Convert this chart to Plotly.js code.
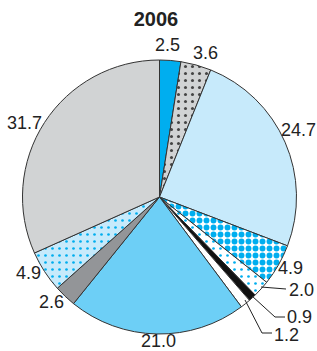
<!DOCTYPE html>
<html><head><meta charset="utf-8">
<script src="https://cdn.plot.ly/plotly-3.0.1.min.js"></script>
<style>html,body{margin:0;padding:0;background:#fff}</style>
</head><body><div id="chart" style="width:317px;height:351px"></div>
<script>
const labels = ["A","B","C","D","E","F","G","H","I","J","K"];
const values = [2.5, 3.6, 24.7, 4.9, 2.0, 0.9, 1.2, 21.0, 2.6, 4.9, 31.7];
const valueText = ["2.5","3.6","24.7","4.9","2.0","0.9","1.2","21.0","2.6","4.9","31.7"];

// styling (kept separate from data)
const colors = ["#00aeef","#d1d3d4","#c7eafb","#ffffff","#ffffff","#111111","#ffffff","#6dcff6","#939598","#c7eafb","#d1d3d4"];
const shapes = ["","." ,"","." ,".","","","","",".",""];
const fg = ["#00aeef","#444444","#c7eafb","#00aeef","#00aeef","#111111","#ffffff","#6dcff6","#939598","#00aeef","#d1d3d4"];
const sol = [0.3,0.15,0.3,0.55,0.12,0.3,0.3,0.3,0.3,0.12,0.3];
// label positions in pixels (layout only)
const labelPx = [[167,45],[205,53],[298,130],[290,268],[301,290],[299,317],[286,335],[158,341],[51,302],[28,273],[24,123]];
// leader lines in pixels
const leaders = [
  [[261,287],[286,289]],
  [[252,296],[275,317],[285,317]],
  [[245,300],[262,333],[272,333]]
];

const W = 317, H = 351;
const px = (x) => x / W, py = (y) => 1 - y / H;

const trace = {
  type: "pie",
  values: values,
  labels: labels,
  textinfo: "none",
  sort: false,
  direction: "clockwise",
  rotation: 0,
  domain: {x: [22/W, 297/W], y: [17/H, 291/H]},
  marker: {
    colors: colors,
    line: {color: "#333333", width: 1},
    pattern: {shape: shapes, fgcolor: fg, bgcolor: colors, size: 7, solidity: sol, fillmode: "replace"}
  },
  showlegend: false,
  hoverinfo: "none"
};

const annotations = valueText.map((t, i) => ({
  text: t, showarrow: false, xref: "paper", yref: "paper",
  x: px(labelPx[i][0]), y: py(labelPx[i][1]), xanchor: "center", yanchor: "middle",
  font: {family: "Liberation Sans Narrow, Liberation Sans, Arial", size: 18, color: "#222"}
}));

const lineShapes = leaders.map(pts => ({
  type: "path", xref: "paper", yref: "paper",
  path: pts.map((p, j) => (j ? "L" : "M") + px(p[0]) + "," + py(p[1])).join(" "),
  line: {color: "#222", width: 1}
}));

const layout = {
  width: W, height: H,
  margin: {l: 0, r: 0, t: 0, b: 0},
  paper_bgcolor: "#fff",
  title: {text: "<b>2006</b>", x: 156/W, xanchor: "center", y: 1 - 19/H, yanchor: "middle",
          font: {family: "Liberation Sans, Arial", size: 20, color: "#222"}},
  annotations: annotations,
  shapes: lineShapes
};
Plotly.newPlot("chart", [trace], layout, {staticPlot: true});
</script></body></html>
